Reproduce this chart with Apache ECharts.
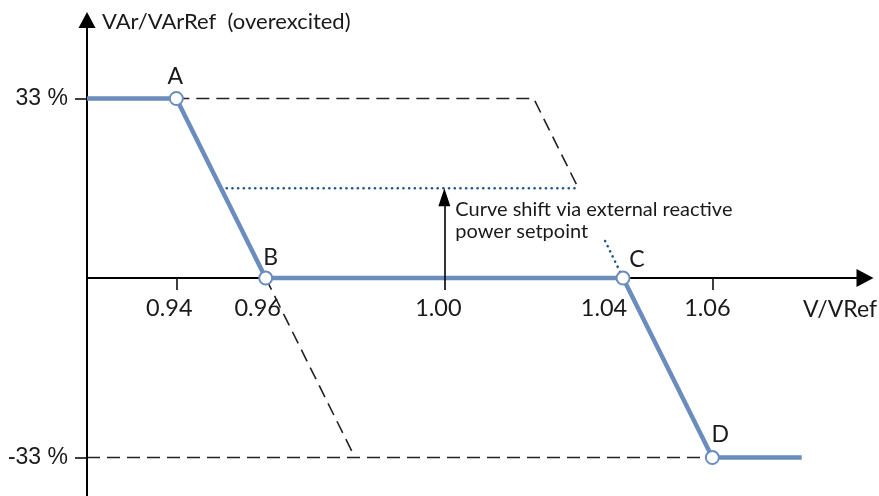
<!DOCTYPE html>
<html>
<head>
<meta charset="utf-8">
<script src="https://cdn.jsdelivr.net/npm/echarts@6/dist/echarts.min.js"></script>
<style>html,body{margin:0;padding:0;background:#fff}#chart{width:879px;height:496px}</style>
</head>
<body>
<div id="chart"></div>
<script>
// characteristic curve (V/VRef, VAr/VArRef %)
var curve = [[0.92, 33], [0.94, 33], [0.96, 0], [1.04, 0], [1.06, -33], [1.08, -33]];
var pointNames = ['A', 'B', 'C', 'D'];
var points = [[0.94, 33], [0.96, 0], [1.04, 0], [1.06, -33]];
// shifted curves
var dashUpper = [[0.94, 33], [1.02, 33], [1.03, 16.5]];
var dashLowerSlope = [[0.96, 0], [0.98, -33]];
var dashLowerFlat = [[0.92, -33], [1.06, -33]];
var dotShift = [[0.95, 16.5], [1.03, 16.5]];
var dotC = [[1.036, 6.8], [1.04, 0]];
var shiftArrow = [[1.00, -2.2], [1.00, 14.85]];
var shiftNote = 'Curve shift via external reactive\npower setpoint';
var xTicks = [0.94, 0.96, 1.00, 1.04, 1.06];
var xTickMarks = [0.94, 1.06];
var yTicks = [-33, 33];

var blue = '#6b8dbd';
var ink = '#1a1a1a';
var font = 'Lato';

// spacer widths to nudge the x labels left
var spacer = { '0.94': 14, '0.96': 16, '1.00': 12, '1.04': 38, '1.06': 10 };
var letterOffset = { A: [-1, -22], B: [5, -20], C: [14, -18], D: [8, -23] };

var rich = { t: { fontFamily: font, fontSize: 23.5, color: ink } };
Object.keys(spacer).forEach(function (k, i) {
  rich['g' + i] = { width: spacer[k], fontSize: 23.5 };
});

function dashed(data) {
  return {
    type: 'line', data: data, symbol: 'none', z: 0, silent: true,
    lineStyle: { color: '#222', width: 1.6, type: [13, 7] }
  };
}
function dotted(data) {
  return {
    type: 'line', data: data, symbol: 'none', z: 2, silent: true,
    lineStyle: { color: '#1f5588', width: 2.6, type: [0.1, 5.6], cap: 'round' }
  };
}

var myChart = echarts.init(document.getElementById('chart'));
var option = {
  animation: false,
  grid: { left: 87, right: 14, top: 20, bottom: 0, outerBoundsMode: 'none', containLabel: false },
  xAxis: {
    type: 'value', min: 0.92, max: 1.09417, z: 1,
    position: 'bottom', offset: -218,
    name: 'V/VRef', nameGap: 12,
    nameTextStyle: { fontFamily: font, fontSize: 23, color: ink, align: 'right', verticalAlign: 'top', padding: [20, 0, 0, 0] },
    axisLine: { onZero: false, lineStyle: { color: '#000', width: 2 }, symbol: ['none', 'triangle'], symbolSize: [18, 17] },
    axisTick: { show: true, customValues: xTickMarks, length: 12, lineStyle: { color: '#000', width: 1.5 } },
    axisLabel: {
      customValues: xTicks, margin: 18, rich: rich,
      formatter: function (v) {
        var s = v.toFixed(2);
        var i = Object.keys(spacer).indexOf(s);
        return '{t|' + s + '}{g' + i + '| }';
      }
    },
    splitLine: { show: false }
  },
  yAxis: {
    type: 'value', min: -40.07, max: 47.43, z: 1,
    name: 'VAr/VArRef  (overexcited)', nameLocation: 'end', nameGap: -2,
    nameTextStyle: { fontFamily: font, fontSize: 22, color: ink, align: 'left', verticalAlign: 'middle', padding: [0, 0, 0, 15] },
    axisLine: { lineStyle: { color: '#000', width: 2 }, symbol: ['none', 'triangle'], symbolSize: [17, 16] },
    axisTick: { show: true, customValues: yTicks, length: 12, lineStyle: { color: '#000', width: 1.5 } },
    axisLabel: {
      customValues: yTicks, margin: 19,
      fontFamily: 'Liberation Sans', fontSize: 23, color: ink,
      formatter: function (v) { return v + ' %'; }
    },
    splitLine: { show: false }
  },
  series: [
    dashed(dashUpper),
    dashed(dashLowerSlope),
    dashed(dashLowerFlat),
    dotted(dotShift),
    dotted(dotC),
    {
      type: 'line', data: curve, symbol: 'none', z: 3, silent: true,
      lineStyle: { color: blue, width: 4.5 }
    },
    {
      type: 'line', data: [], z: 3, silent: true,
      markLine: {
        silent: true, symbol: ['none', 'triangle'], symbolSize: [12, 18],
        label: { show: false },
        lineStyle: { color: '#000', width: 1.6, type: 'solid' },
        data: [[{ coord: shiftArrow[0] }, { coord: shiftArrow[1] }]]
      },
      markPoint: {
        silent: true, symbol: 'circle', symbolSize: 0,
        label: {
          show: true, position: 'right', distance: 11, align: 'left', verticalAlign: 'middle',
          fontFamily: font, fontSize: 20, lineHeight: 22, color: ink,
          formatter: shiftNote
        },
        data: [{ coord: [1.00, 10.5] }]
      }
    },
    {
      type: 'scatter', z: 5, silent: true,
      symbol: 'circle', symbolSize: 13,
      itemStyle: { color: '#ffffff', opacity: 1, borderColor: blue, borderWidth: 2 },
      data: points.map(function (p, i) {
        return {
          value: p, name: pointNames[i],
          label: { offset: letterOffset[pointNames[i]] }
        };
      }),
      label: {
        show: true, position: 'inside', formatter: '{b}',
        fontFamily: font, fontSize: 23, color: ink
      }
    }
  ]
};
myChart.setOption(option);
</script>
</body>
</html>
